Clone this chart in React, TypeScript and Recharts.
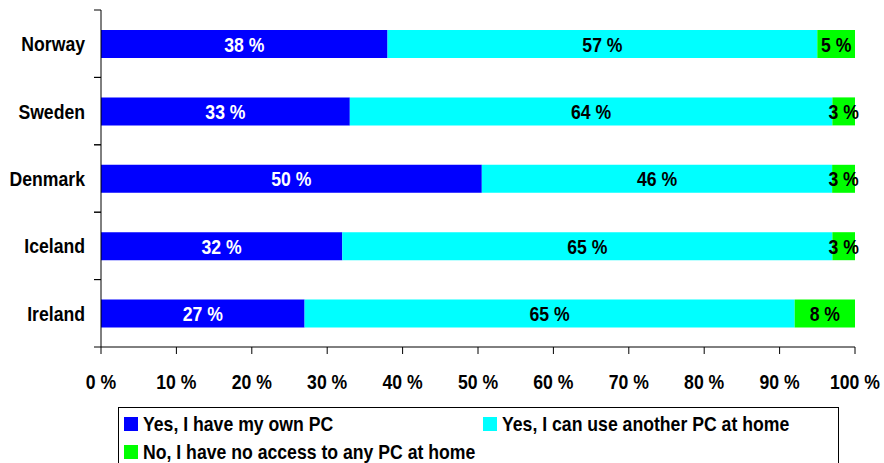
import React from "react";
import { BarChart, Bar, XAxis, YAxis, LabelList } from "recharts";

const countries = ["Norway", "Sweden", "Denmark", "Iceland", "Ireland"];
const ownPc = [38, 33, 50, 32, 27];
const otherPc = [57, 64, 46, 65, 65];
const noPc = [5, 3, 3, 3, 8];
const tickPercents = [0, 10, 20, 30, 40, 50, 60, 70, 80, 90, 100];

const series = [
  { key: "own", name: "Yes, I have my own PC", color: "#0000FF", text: "#FFFFFF" },
  { key: "other", name: "Yes, I can use another PC at home", color: "#00FFFF", text: "#000000" },
  { key: "none", name: "No, I have no access to any PC at home", color: "#00FF00", text: "#000000" },
];

const data = countries.map((country, i) => ({
  country,
  own: ownPc[i],
  other: otherPc[i],
  none: noPc[i],
}));

const FONT = "'Liberation Sans', Arial, sans-serif";
const SQUEEZE = 0.84;
const PLOT_LEFT = 101;
const PLOT_TOP = 10;
const PLOT_BOTTOM = 347;
const BAND = (PLOT_BOTTOM - PLOT_TOP) / countries.length;

// condensed bold text, like Arial Narrow
const NarrowText = ({ x, y, anchor = "middle", fill = "#000", children }: any) => (
  <g transform={`translate(${x},${y}) scale(${SQUEEZE},1)`}>
    <text x={0} y={0} dy="0.36em" textAnchor={anchor} fontFamily={FONT} fontWeight="bold" fontSize={21} fill={fill}>
      {children}
    </text>
  </g>
);

const CountryTick = (props: any) => {
  const { y, payload } = props;
  return (
    <g>
      <line x1={PLOT_LEFT - 7} x2={PLOT_LEFT} y1={y - BAND / 2} y2={y - BAND / 2} stroke="#000" />
      <line x1={PLOT_LEFT - 7} x2={PLOT_LEFT} y1={y + BAND / 2} y2={y + BAND / 2} stroke="#000" />
      <NarrowText x={85} y={y} anchor="end">
        {payload.value}
      </NarrowText>
    </g>
  );
};

const PercentTick = (props: any) => {
  const { x, payload } = props;
  return (
    <NarrowText x={x} y={381}>
      {`${Math.round(payload.value * 100)} %`}
    </NarrowText>
  );
};

const makeLabel = (fill: string) => (props: any) => {
  const { x, y, width, height, value } = props;
  return (
    <NarrowText x={x + width / 2} y={y + height / 2} fill={fill}>
      {`${value} %`}
    </NarrowText>
  );
};

export default function App() {
  return (
    <div style={{ position: "absolute", left: 0, top: 0, width: 884, height: 463, background: "#fff", overflow: "hidden" }}>
      <BarChart
        width={884}
        height={463}
        data={data}
        layout="vertical"
        stackOffset="expand"
        barSize={28}
        margin={{ top: PLOT_TOP, right: 29, left: 0, bottom: 76 }}
      >
        <XAxis
          type="number"
          domain={[0, 1]}
          ticks={tickPercents.map((p) => p / 100)}
          height={40}
          tickSize={7}
          axisLine={{ stroke: "#000" }}
          tickLine={{ stroke: "#000" }}
          tick={<PercentTick />}
          interval={0}
        />
        <YAxis
          type="category"
          dataKey="country"
          width={PLOT_LEFT}
          tickLine={false}
          axisLine={{ stroke: "#000" }}
          tick={<CountryTick />}
          interval={0}
        />
        {series.map((s) => (
          <Bar key={s.key} dataKey={s.key} name={s.name} stackId="a" fill={s.color} isAnimationActive={false}>
            <LabelList dataKey={s.key} content={makeLabel(s.text)} />
          </Bar>
        ))}
      </BarChart>
      <div
        style={{
          position: "absolute",
          left: 118,
          top: 407,
          width: 719,
          height: 70,
          border: "1px solid #000",
          fontFamily: FONT,
          fontWeight: "bold",
          fontSize: 21,
          color: "#000",
        }}
      >
        {series.map((s, i) => (
          <div
            key={s.key}
            style={{
              position: "absolute",
              left: i === 1 ? 364 : 5,
              top: i === 2 ? 30 : 2,
              display: "flex",
              alignItems: "center",
              whiteSpace: "nowrap",
              lineHeight: "28px",
            }}
          >
            <span style={{ display: "inline-block", width: 14, height: 14, background: s.color, marginRight: 5 }} />
            <span style={{ display: "inline-block", transform: `scaleX(${SQUEEZE})`, transformOrigin: "left center" }}>
              {s.name}
            </span>
          </div>
        ))}
      </div>
    </div>
  );
}
